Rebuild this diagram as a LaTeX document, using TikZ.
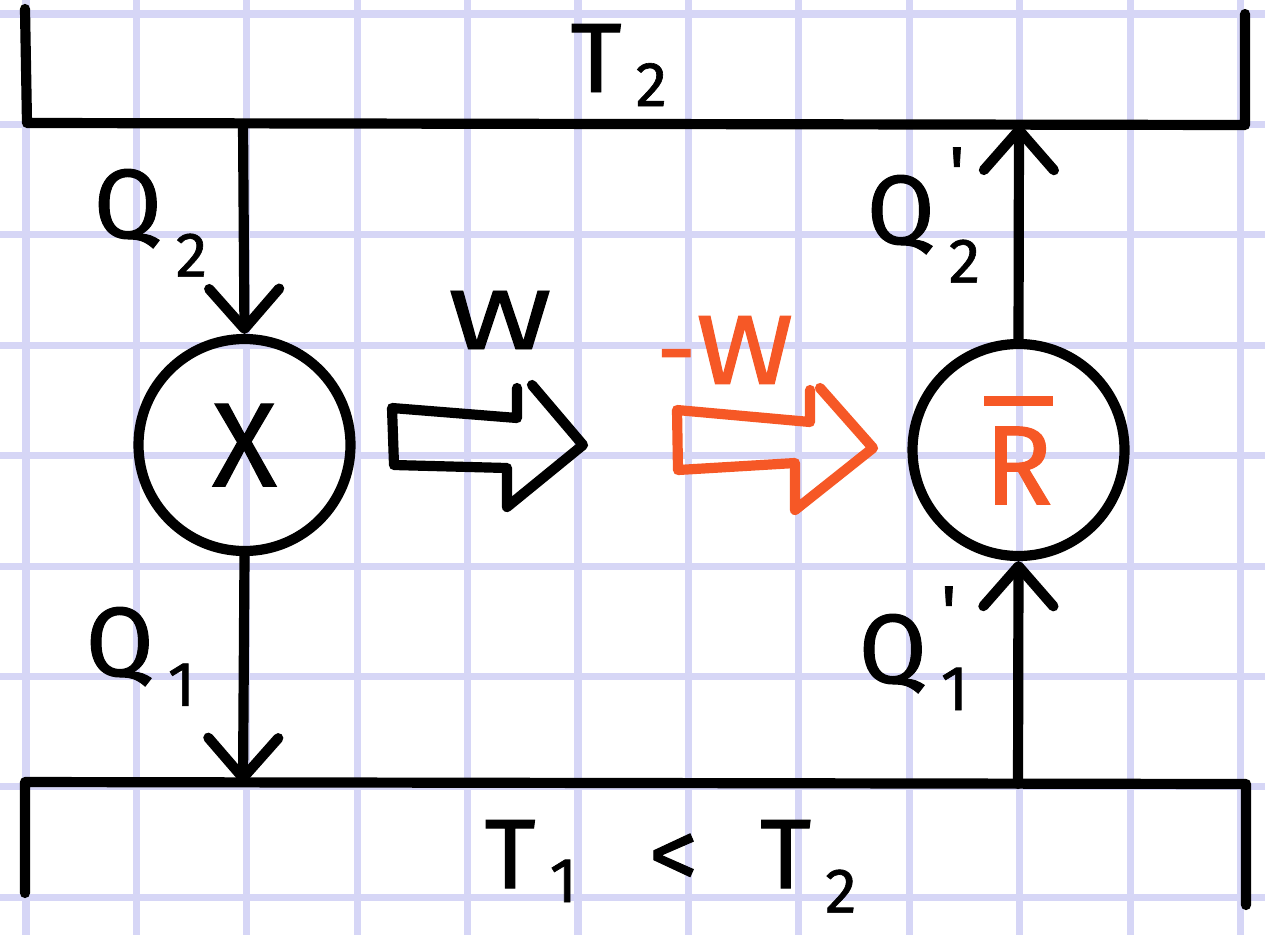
\documentclass[tikz,border=0pt]{standalone}
\usepackage{fontspec}
\setmainfont{Fira Sans}[FakeBold=1.0]
\usetikzlibrary{arrows.meta,positioning,calc}
\definecolor{gridblue}{RGB}{214,214,246}
\definecolor{redorange}{RGB}{246,88,38}
% hand-written style indices
\newcommand{\lowidx}[2][11pt]{\hspace{4pt}\raisebox{-#1}{\fontsize{18}{18}\selectfont #2}}
\newcommand{\primeidx}[2][11pt]{\hspace{4pt}\makebox[0pt][l]{\raisebox{13pt}{\fontsize{21}{21}\selectfont\textquotesingle}}\raisebox{-#1}{\fontsize{18}{18}\selectfont #2}}
\newcommand{\barR}{\vbox{\hrule height 2.8pt\kern 6pt\hbox{R}}}

\begin{document}
\begin{tikzpicture}[
    x=1cm, y=-1cm,
    wire/.style={line width=2.9pt, line cap=round, line join=round},
    flow/.style={wire, -{Straight Barb[length=4mm, width=7mm, round]}},
    device/.style={circle, draw, line width=2.9pt, minimum size=2.12cm, inner sep=0pt},
    handtext/.style={font=\fontsize{28}{30}\selectfont, inner sep=0pt}
]
    % paper
    \useasboundingbox (0,0) rectangle (12.65,9.35);
    \fill[white] (0,0) rectangle (12.65,9.35);
    \foreach \i in {0,...,11}
        \draw[gridblue, line width=2pt] ({0.26+1.104*\i},0) -- ++(0,9.35);
    \foreach \j in {0,...,8}
        \draw[gridblue, line width=2pt] (0,{0.14+1.104*\j}) -- ++(12.65,0);

    % reservoirs
    \draw[wire] (0.25,0.09) -- (0.27,1.23) -- (12.45,1.25) -- (12.45,0.14);
    \draw[wire] (0.25,8.93) -- (0.25,7.82) -- (12.46,7.84) -- (12.46,9.05);
    \node[handtext, anchor=base west] (hot) at (5.70,0.92) {T\lowidx[4pt]{2}};
    \node[handtext, anchor=base west] (cold) at (4.84,8.88) {T\lowidx[4pt]{1}\hspace{0.72cm}<\hspace{0.62cm}T\lowidx[7pt]{2}};

    \coordinate (hotL) at (2.43,1.24);
    \coordinate (coldL) at (2.43,7.83);
    \coordinate (hotR) at (10.19,1.25);
    \coordinate (coldR) at (10.18,7.84);

    % engine and refrigerator
    \node[device, handtext, font=\fontsize{34}{36}\selectfont] (engine) at (2.445,4.45) {X};
    \node[device, handtext, font=\fontsize{32}{34}\selectfont, text=redorange] (fridge) at (10.185,4.50) {\barR};

    \draw[flow] (hotL) -- (engine.north);
    \draw[flow] (engine.south) -- (coldL);
    \draw[flow] (coldR) -- (fridge.south);
    \draw[flow] (fridge.north) -- (hotR);

    \node[handtext, anchor=base west] (q2) at (0.93,2.38) {Q\lowidx{2}};
    \node[handtext, anchor=base west] (q1) at (0.85,6.76) {Q\lowidx[8.5pt]{1}};
    \node[handtext, anchor=base west] (q2p) at (8.66,2.44) {Q\primeidx{2}};
    \node[handtext, anchor=base west] (q1p) at (8.58,6.83) {Q\primeidx[7.7pt]{1}};

    % work arrows
    \draw[wire] (5.17,3.88) -- (5.17,4.18) -- (3.92,4.08) -- (3.94,4.65) -- (5.07,4.68)
        -- (5.07,5.07) -- (5.83,4.45) -- (5.32,3.85);
    \node[handtext, font=\fontsize{24}{26}\selectfont] (work) at (5.00,3.20) {\scalebox{1.5}[1]{W}};
    \draw[wire, redorange] (8.10,3.90) -- (8.10,4.22) -- (6.77,4.10) -- (6.78,4.70) -- (7.95,4.63)
        -- (7.95,5.10) -- (8.73,4.48) -- (8.20,3.88);
    \node[handtext, text=redorange] (negwork) at (7.25,3.50) {-\scalebox{1.2}[1]{W}};
\end{tikzpicture}
\end{document}
